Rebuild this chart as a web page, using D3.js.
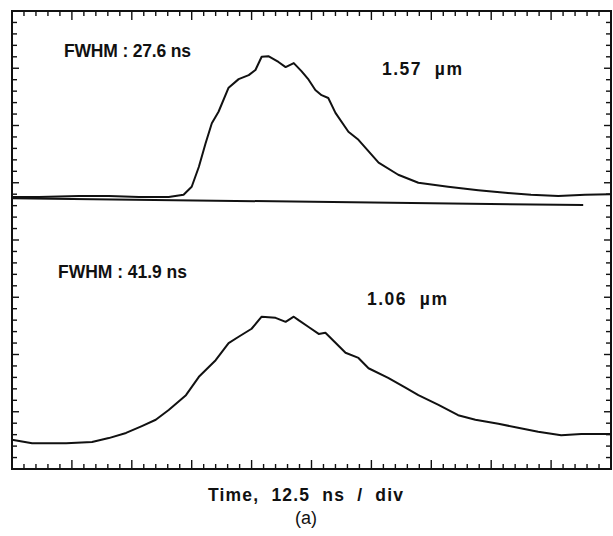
<!DOCTYPE html>
<html>
<head>
<meta charset="utf-8">
<script src="https://cdn.jsdelivr.net/npm/d3@7"></script>
<style>
  body { margin: 0; background: #fff; }
  svg { display: block; }
  text { font-family: "Liberation Sans", Arial, Helvetica, sans-serif; fill: #111; }
</style>
</head>
<body>
<div id="chart"></div>
<script>
// Time in ns (10 div x 12.5 ns), amplitude in vertical divisions (8 div)
var topTime = [0, 5.6, 14, 20.2, 26.5, 32.7, 35.8, 37.5, 39, 40.4, 41.7, 43.1, 45.2, 47.3, 49.4,
  50.8, 52.1, 53.5, 55.6, 57.1, 58.8, 60.4, 61.9, 63.3, 64.6, 66, 67.5, 70.2, 72.3, 76.5,
  80.6, 84.8, 91, 97.3, 103.5, 108.3, 114, 119.6, 124.8];
var topValue = [4.75, 4.75, 4.77, 4.77, 4.75, 4.75, 4.79, 4.93, 5.28, 5.69, 6.04, 6.24, 6.66, 6.81, 6.88,
  6.97, 7.2, 7.21, 7.11, 7.02, 7.09, 6.95, 6.8, 6.62, 6.53, 6.48, 6.22, 5.89, 5.75, 5.35,
  5.14, 5.0, 4.93, 4.87, 4.82, 4.79, 4.77, 4.79, 4.8];

var bottomTime = [0, 4.2, 11.3, 16.7, 20.2, 23.8, 27.1, 30, 32.7, 36.3, 39, 42.5, 45.2, 47.3, 50,
  52.1, 55, 57.1, 58.8, 59.8, 61.9, 64, 65.4, 69.6, 72.3, 74.4, 78.5, 82.1, 84.8, 89,
  93.1, 96.7, 101.5, 105.6, 109.8, 114.6, 118.8, 124.8];
var bottomValue = [0.51, 0.45, 0.45, 0.47, 0.54, 0.63, 0.75, 0.86, 1.03, 1.29, 1.61, 1.9, 2.2, 2.31, 2.45,
  2.66, 2.64, 2.57, 2.66, 2.6, 2.48, 2.36, 2.38, 2.03, 1.94, 1.76, 1.59, 1.42, 1.29, 1.12,
  0.94, 0.86, 0.79, 0.72, 0.65, 0.59, 0.61, 0.61];

// zero line of the upper channel
var baseTime = [0, 119.2];
var baseValue = [4.73, 4.61];

var labels = ['FWHM : 27.6 ns', '1.57  \u00b5m', 'FWHM : 41.9 ns', '1.06  \u00b5m'];
var xLabel = 'Time,  12.5  ns  /  div';
var caption = '(a)';

var w = 613, h = 536;

var svg = d3.select('#chart')
  .append('svg')
  .attr('width', w)
  .attr('height', h);

var x = d3.scaleLinear().domain([0, 125]).range([12, 611]);
var y = d3.scaleLinear().domain([0, 8]).range([469, 11]);

function zip(ts, vs) {
  return ts.map(function (t, i) { return [t, vs[i]]; });
}

// graticule ticks: 5 minor per division, pointing inward from every edge
var xTicks = d3.range(0, 51).map(function (i) { return { v: i * 2.5, major: i % 5 === 0 }; }),
    yTicks = d3.range(0, 41).map(function (i) { return { v: i * 0.2, major: i % 5 === 0 }; });

var ticks = svg.append('g')
  .attr('stroke', '#111')
  .attr('stroke-width', 1.4);

[[y(0), -1], [y(8), 1]].forEach(function (side) {
  ticks.selectAll(null)
    .data(xTicks)
    .enter()
    .append('line')
    .attr('x1', function (d) { return x(d.v); })
    .attr('x2', function (d) { return x(d.v); })
    .attr('y1', side[0])
    .attr('y2', function (d) { return side[0] + side[1] * (d.major ? 9 : 5); });
});

[[x(0), 1], [x(125), -1]].forEach(function (side) {
  ticks.selectAll(null)
    .data(yTicks)
    .enter()
    .append('line')
    .attr('y1', function (d) { return y(d.v); })
    .attr('y2', function (d) { return y(d.v); })
    .attr('x1', side[0])
    .attr('x2', function (d) { return side[0] + side[1] * (d.major ? 7 : 5); });
});

// frame
svg.append('rect')
  .attr('x', x(0))
  .attr('y', y(8))
  .attr('width', x(125) - x(0))
  .attr('height', y(0) - y(8))
  .attr('fill', 'none')
  .attr('stroke', '#111')
  .attr('stroke-width', 2);

var line = d3.line()
  .x(function (d) { return x(d[0]); })
  .y(function (d) { return y(d[1]); });

svg.append('path')
  .datum(zip(baseTime, baseValue))
  .attr('d', line)
  .attr('fill', 'none')
  .attr('stroke', '#111')
  .attr('stroke-width', 2);

[zip(topTime, topValue), zip(bottomTime, bottomValue)].forEach(function (trace) {
  svg.append('path')
    .datum(trace)
    .attr('d', line)
    .attr('fill', 'none')
    .attr('stroke', '#111')
    .attr('stroke-width', 2)
    .attr('stroke-linejoin', 'round');
});

// annotations
var notes = [
  { text: labels[0], x: 64, y: 57, len: 127 },
  { text: labels[1], x: 382, y: 75, len: 80 },
  { text: labels[2], x: 58, y: 278, len: 129 },
  { text: labels[3], x: 367, y: 305, len: 80 }
];
svg.selectAll('text.note')
  .data(notes)
  .enter()
  .append('text')
  .attr('class', 'note')
  .attr('x', function (d) { return d.x; })
  .attr('y', function (d) { return d.y; })
  .attr('textLength', function (d) { return d.len; })
  .attr('lengthAdjust', 'spacing')
  .style('white-space', 'pre')
  .style('font-weight', 'bold')
  .style('font-size', '17.5px')
  .text(function (d) { return d.text; });

svg.append('text')
  .attr('x', 208)
  .attr('y', 501)
  .attr('textLength', 195)
  .attr('lengthAdjust', 'spacing')
  .style('white-space', 'pre')
  .style('font-weight', 'bold')
  .style('font-size', '17.5px')
  .text(xLabel);

svg.append('text')
  .attr('x', 306)
  .attr('y', 524)
  .attr('text-anchor', 'middle')
  .style('font-size', '18px')
  .text(caption);
</script>
</body>
</html>
